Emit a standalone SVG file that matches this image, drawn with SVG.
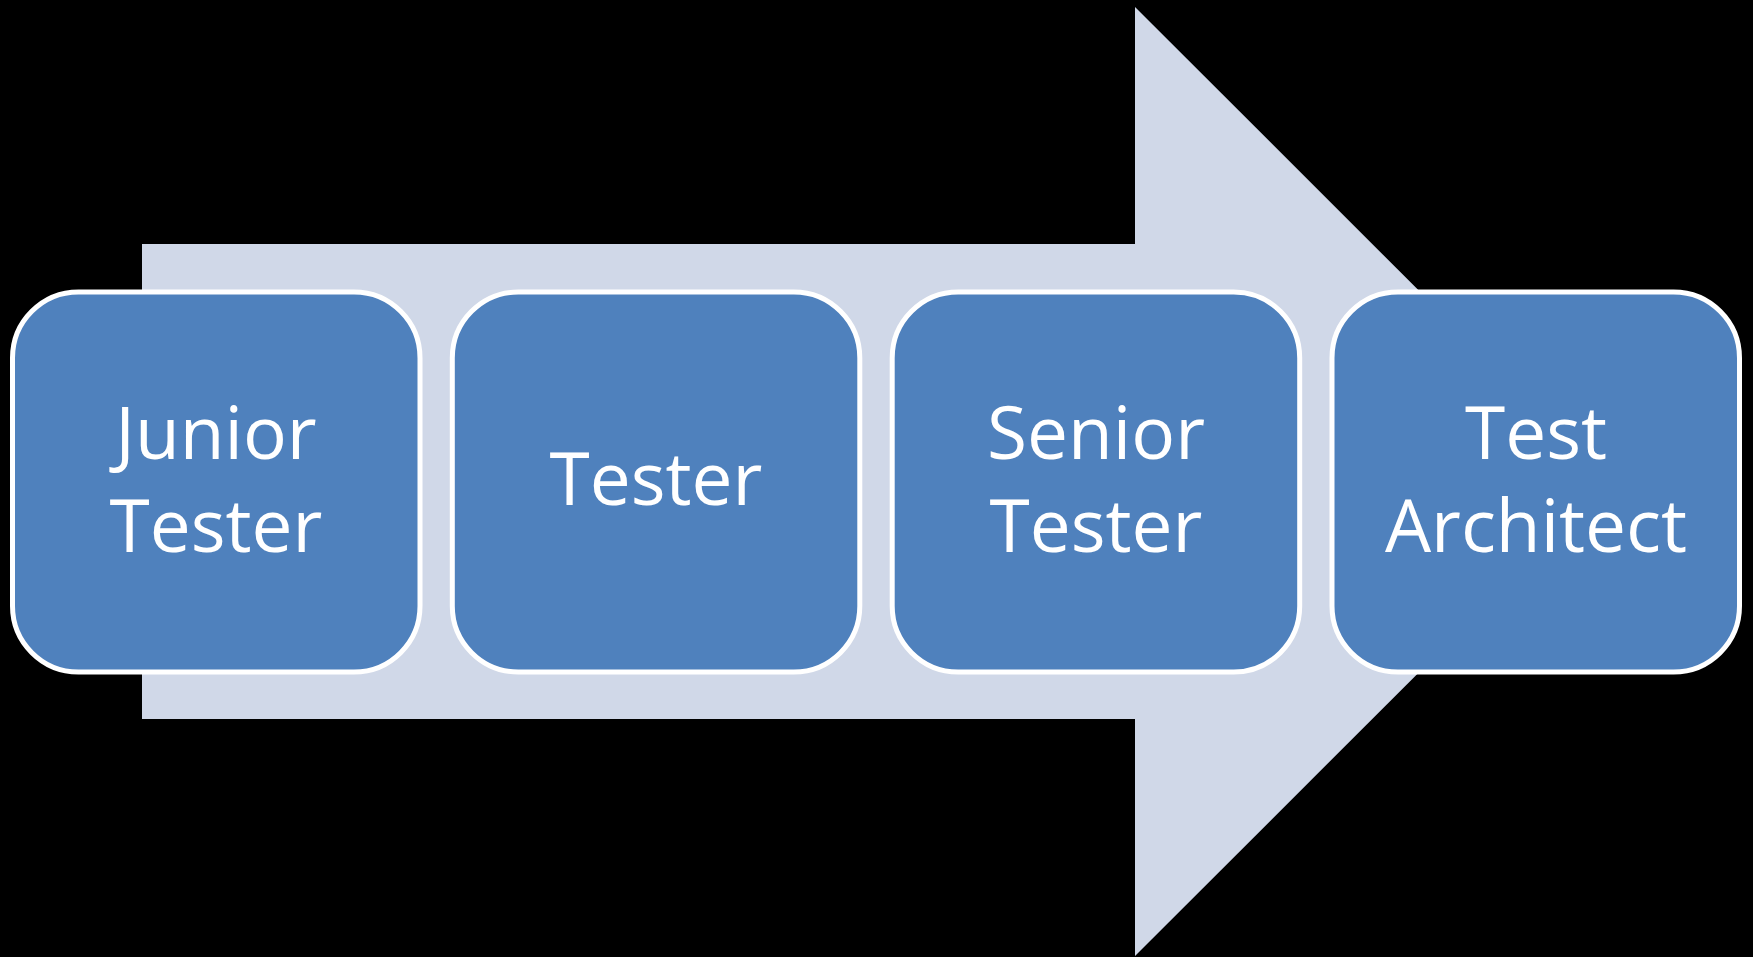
<svg xmlns="http://www.w3.org/2000/svg" width="1753" height="957" viewBox="0 0 1753 957">
<style>
.box{fill:#4F81BD;stroke:#FFFFFF;stroke-width:5}
.lbl{font-family:"Open Sans","Noto Sans",sans-serif;font-size:73px;fill:#FFFFFF;text-anchor:middle}
</style>
<rect x="0" y="0" width="1753" height="957" fill="#000000"/>
<g id="arrow">
<polygon points="142,244 1135,244 1135,7 1610,481.5 1135,956 1135,719 142,719" fill="#D0D8E8"/>
</g>
<g id="connectors"></g>
<g id="node1">
<rect class="box" x="12.5" y="292" width="407.5" height="380" rx="66" ry="66"/>
<text class="lbl" x="216" y="459">Junior</text>
<text class="lbl" x="216" y="552">Tester</text>
</g>
<g id="node2">
<rect class="box" x="452.3" y="292" width="407.5" height="380" rx="66" ry="66"/>
<text class="lbl" x="656" y="505">Tester</text>
</g>
<g id="node3">
<rect class="box" x="892.2" y="292" width="407.5" height="380" rx="66" ry="66"/>
<text class="lbl" x="1096" y="459">Senior</text>
<text class="lbl" x="1096" y="552">Tester</text>
</g>
<g id="node4">
<rect class="box" x="1332" y="292" width="407.5" height="380" rx="66" ry="66"/>
<text class="lbl" x="1536" y="459">Test</text>
<text class="lbl" x="1536" y="552">Architect</text>
</g>
</svg>
